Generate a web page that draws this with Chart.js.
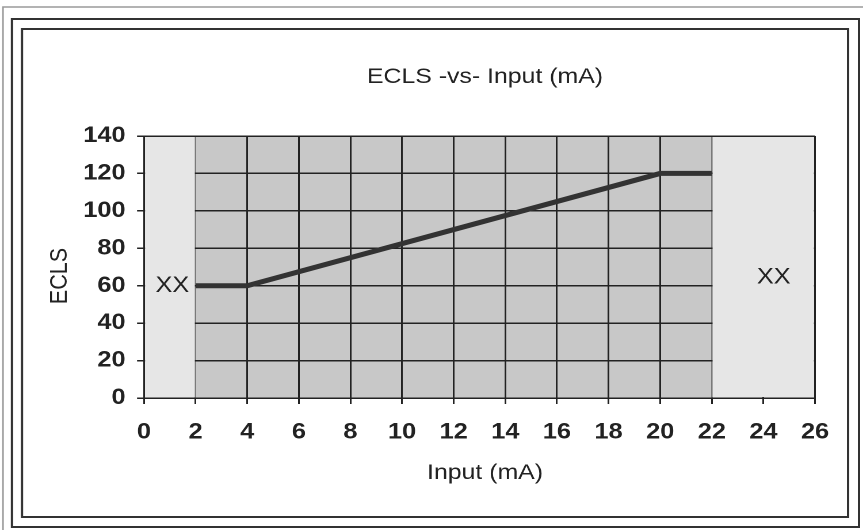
<!DOCTYPE html>
<html><head><meta charset="utf-8">
<script src="https://cdn.jsdelivr.net/npm/chart.js@4/dist/chart.umd.min.js"></script>
<style>
html,body{margin:0;padding:0;background:#fff;overflow:hidden;}
#wrap{width:863px;height:530px;overflow:hidden;position:relative;}
#c{transform:scaleX(1.1507);transform-origin:0 0;}
</style></head><body><div id="wrap"><canvas id="c" width="750" height="530"></canvas></div>
<script>
// ---- data ----
const inputs = [2, 4, 20, 22];
const ecls = [60, 60, 120, 120];
const xTicks = [0, 2, 4, 6, 8, 10, 12, 14, 16, 18, 20, 22, 24, 26];
const yTicks = [0, 20, 40, 60, 80, 100, 120, 140];
const titleText = 'ECLS -vs- Input (mA)';
const xTitle = 'Input (mA)';
const yTitle = 'ECLS';
const zoneLabels = ['XX', 'XX'];
const activeRange = [2, 22];

// ---- label anchors (data units) ----
const zoneLabelAnchors = [{x: 1.1, y: 60}, {x: 24.4, y: 64.4}];

const FONT = "'Liberation Sans', Arial, Helvetica, sans-serif";
const INK = '#222';

const decor = {
  id: 'decor',
  beforeDraw(chart) {
    const ctx = chart.ctx, a = chart.chartArea, xs = chart.scales.x;
    ctx.save();
    ctx.strokeStyle = '#9a9a9a'; ctx.lineWidth = 1.4;
    ctx.beginPath(); ctx.moveTo(2.6, 530); ctx.lineTo(2.6, 7); ctx.lineTo(750, 7); ctx.stroke();
    ctx.strokeStyle = '#333'; ctx.lineWidth = 2;
    ctx.strokeRect(10.4, 19, 746.5 - 10.4, 527 - 19);
    ctx.strokeRect(19.1, 29, 737 - 19.1, 517 - 29);
    ctx.fillStyle = '#e6e6e6';
    ctx.fillRect(a.left, a.top, a.width, a.height);
    const x0 = xs.getPixelForValue(activeRange[0]), x1 = xs.getPixelForValue(activeRange[1]);
    ctx.fillStyle = '#c8c8c8';
    ctx.fillRect(x0, a.top, x1 - x0, a.height);
    ctx.restore();
  },
  beforeDatasetsDraw(chart) {
    const ctx = chart.ctx, a = chart.chartArea, xs = chart.scales.x;
    const x0 = xs.getPixelForValue(activeRange[0]), x1 = xs.getPixelForValue(activeRange[1]);
    ctx.save();
    ctx.fillStyle = '#e6e6e6';
    ctx.fillRect(a.left + 1, a.top + 1, x0 - 0.7 - (a.left + 1), a.height - 2);
    ctx.fillRect(x1 + 0.7, a.top + 1, a.right - 1 - (x1 + 0.7), a.height - 2);
    ctx.restore();
  },
  afterDatasetsDraw(chart) {
    const ctx = chart.ctx, xs = chart.scales.x, ys = chart.scales.y;
    ctx.save();
    ctx.fillStyle = INK;
    ctx.font = '22px ' + FONT;
    ctx.textAlign = 'center'; ctx.textBaseline = 'middle';
    zoneLabels.forEach((t, i) => {
      ctx.fillText(t, xs.getPixelForValue(zoneLabelAnchors[i].x), ys.getPixelForValue(zoneLabelAnchors[i].y));
    });
    ctx.restore();
  },
  afterDraw(chart) {
    const ctx = chart.ctx;
    ctx.save();
    ctx.fillStyle = INK;
    ctx.textAlign = 'center'; ctx.textBaseline = 'middle';
    ctx.font = '21.6px ' + FONT;
    ctx.fillText(titleText, 421.5, 77);
    ctx.fillText(xTitle, 421.5, 473);
    ctx.translate(52.1, 276);
    ctx.rotate(-Math.PI / 2);
    ctx.fillText(yTitle, 0, 0);
    ctx.restore();
  }
};

const gridColor = c => (c.tick && (c.tick.value === activeRange[0] || c.tick.value === activeRange[1])) ? '#7a7a7a' : INK;

new Chart(document.getElementById('c'), {
  type: 'scatter',
  data: {
    datasets: [{
      data: inputs.map((v, i) => ({x: v, y: ecls[i]})),
      showLine: true,
      borderColor: '#333',
      borderWidth: 5,
      borderCapStyle: 'butt',
      borderJoinStyle: 'miter',
      pointRadius: 0,
      pointHoverRadius: 0,
      fill: false,
      tension: 0
    }]
  },
  options: {
    responsive: false,
    animation: false,
    devicePixelRatio: 2,
    events: [],
    layout: {padding: {left: 0, right: 41.7, top: 136, bottom: 0}},
    plugins: {legend: {display: false}, tooltip: {enabled: false}, title: {display: false}},
    scales: {
      x: {
        type: 'linear', min: 0, max: 26,
        afterBuildTicks: s => { s.ticks = xTicks.map(v => ({value: v})); },
        afterFit: s => { s.height = 132; },
        grid: {color: gridColor, lineWidth: 1.5, drawTicks: true, tickLength: 6, tickColor: INK, tickWidth: 1.5},
        border: {display: true, color: INK, width: 1.5},
        ticks: {font: {family: FONT, size: 22, weight: 'bold'}, color: INK, padding: 15, maxRotation: 0, autoSkip: false}
      },
      y: {
        type: 'linear', min: 0, max: 140,
        afterBuildTicks: s => { s.ticks = yTicks.map(v => ({value: v})); },
        afterFit: s => { s.width = 125.1; },
        grid: {color: INK, lineWidth: 1.5, drawTicks: true, tickLength: 6, tickColor: INK, tickWidth: 1.5},
        border: {display: true, color: INK, width: 1.5},
        ticks: {font: {family: FONT, size: 22, weight: 'bold'}, color: INK, padding: 10, autoSkip: false}
      }
    }
  },
  plugins: [decor]
});
</script></body></html>
